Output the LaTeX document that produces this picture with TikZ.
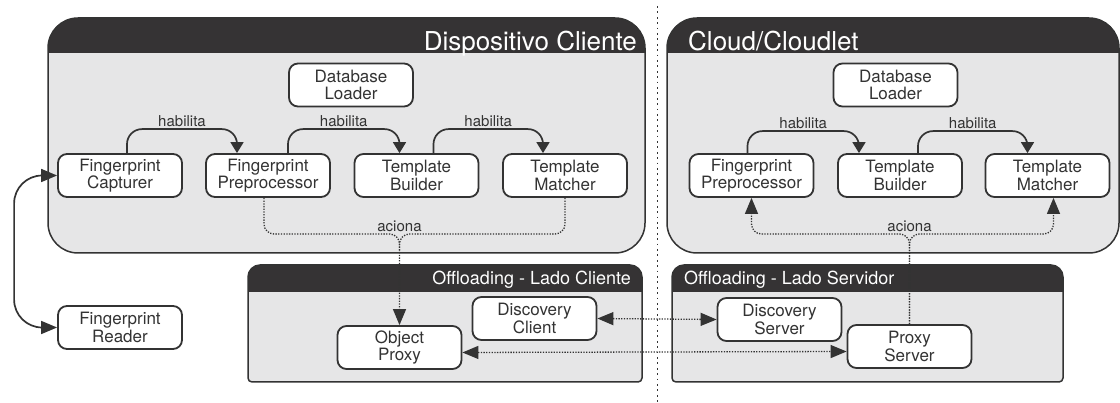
\documentclass[tikz,border=0pt]{standalone}
\usepackage{fontspec}
\setmainfont{TeX Gyre Heros}
\usepackage{xcolor}
\usetikzlibrary{arrows.meta}

\definecolor{barcolor}{HTML}{353334}
\definecolor{panelcolor}{HTML}{E6E6E7}
\definecolor{inkcolor}{HTML}{333333}

\begin{document}
\begin{tikzpicture}[x=1pt,y=-1pt,
    comp/.style={draw=inkcolor, fill=white, line width=1.8pt, rounded corners=9pt,
        minimum width=124pt, minimum height=43pt, inner sep=0pt, align=center,
        text=inkcolor, font=\fontsize{17}{17.5}\selectfont},
    edgetext/.style={text=inkcolor, inner sep=2pt, font=\fontsize{15}{15}\selectfont},
    bartext/.style={text=white, inner sep=0pt},
    habarrow/.style={draw=inkcolor, line width=1.7pt, rounded corners=15pt,
        -{Triangle[length=11pt,width=13pt]}},
    dotline/.style={draw=inkcolor, line width=1.3pt, dash pattern=on 1.3pt off 1.4pt},
    dottip/.style={-{Triangle[length=16pt,width=13pt]}},
    panelline/.style={draw=inkcolor, line width=1.5pt}]
        \useasboundingbox (0,0) rectangle (1120,403);

        % client device
        \begin{scope}
            \clip[rounded corners=30pt] (48,18) rectangle (645,253);
            \fill[panelcolor] (48,18) rectangle (645,253);
            \fill[barcolor] (48,18) rectangle (645,53);
        \end{scope}
        \draw[panelline, rounded corners=30pt] (48,18) rectangle (645,253);
        \node[bartext, anchor=base east, font=\fontsize{26}{26}\selectfont] (ctitle) at (637,51) {Dispositivo Cliente};

        % cloud
        \begin{scope}
            \clip[rounded corners=30pt] (667,18) rectangle (1119,253);
            \fill[panelcolor] (667,18) rectangle (1119,253);
            \fill[barcolor] (667,18) rectangle (1119,53);
        \end{scope}
        \draw[panelline, rounded corners=30pt] (667,18) rectangle (1119,253);
        \node[bartext, anchor=base west, font=\fontsize{26}{26}\selectfont] (stitle) at (688,51) {Cloud/Cloudlet};

        % offloading client side
        \begin{scope}
            \clip (248,323) [rounded corners=12pt] -- (248,265) -- (642,265) -- (642,323)
                [rounded corners=4pt] -- (642,382) -- (248,382) -- cycle;
            \fill[panelcolor] (248,265) rectangle (642,382);
            \fill[barcolor] (248,265) rectangle (642,292);
        \end{scope}
        \draw[panelline] (248,323) [rounded corners=12pt] -- (248,265) -- (642,265) -- (642,323)
            [rounded corners=4pt] -- (642,382) -- (248,382) -- cycle;
        \node[bartext, anchor=base east, font=\fontsize{18}{18}\selectfont] (cofftitle) at (631,285) {Offloading - Lado Cliente};

        % offloading server side
        \begin{scope}
            \clip (672,323) [rounded corners=12pt] -- (672,265) -- (1063,265) -- (1063,323)
                [rounded corners=4pt] -- (1063,382) -- (672,382) -- cycle;
            \fill[panelcolor] (672,265) rectangle (1063,382);
            \fill[barcolor] (672,265) rectangle (1063,292);
        \end{scope}
        \draw[panelline] (672,323) [rounded corners=12pt] -- (672,265) -- (1063,265) -- (1063,323)
            [rounded corners=4pt] -- (1063,382) -- (672,382) -- cycle;
        \node[bartext, anchor=base west, font=\fontsize{18}{18}\selectfont] (sofftitle) at (684,285) {Offloading - Lado Servidor};

        % divider
        \draw[inkcolor, line width=1.5pt, dash pattern=on 1.8pt off 3.6pt] (657.5,6) -- (657.5,403);

        \node[comp] (cdb) at (351,85) {Database\\Loader};
        \node[comp] (ccap) at (120,175.5) {Fingerprint\\Capturer};
        \node[comp] (cpre) at (268,175.5) {Fingerprint\\Preprocessor};
        \node[comp] (cbld) at (416.5,175.5) {Template\\Builder};
        \node[comp] (cmat) at (565,175.5) {Template\\Matcher};
        \node[comp] (rdr) at (120,327.5) {Fingerprint\\Reader};
        \node[comp] (cobj) at (399.5,347.5) {Object\\Proxy};
        \node[comp] (cdsc) at (534.5,318.5) {Discovery\\Client};

        \node[comp] (sdb) at (895.5,85) {Database\\Loader};
        \node[comp] (spre) at (751.5,175.5) {Fingerprint\\Preprocessor};
        \node[comp] (sbld) at (900,175.5) {Template\\Builder};
        \node[comp] (smat) at (1047.5,175.5) {Template\\Matcher};
        \node[comp] (sdsc) at (779.5,319.5) {Discovery\\Server};
        \node[comp] (sprx) at (909.5,346.5) {Proxy\\Server};

        % habilita
        \draw[habarrow] ([xshift=7pt]ccap.north) -- ++(0,-24) -| node[pos=0.25, above, edgetext] {habilita} ([xshift=-31pt]cpre.north);
        \draw[habarrow] ([xshift=20pt]cpre.north) -- ++(0,-24) -| node[pos=0.25, above, edgetext] {habilita} ([xshift=-17pt]cbld.north);
        \draw[habarrow] ([xshift=17pt]cbld.north) -- ++(0,-24) -| node[pos=0.25, above, edgetext] {habilita} ([xshift=-22pt]cmat.north);
        \draw[habarrow] ([xshift=-4pt]spre.north) -- ++(0,-22) -| node[pos=0.25, above, edgetext] {habilita} ([xshift=-41pt]sbld.north);
        \draw[habarrow] ([xshift=18pt]sbld.north) -- ++(0,-22) -| node[pos=0.25, above, edgetext] {habilita} ([xshift=-20pt]smat.north);

        % aciona
        \coordinate (cjoin) at (399.5,234);
        \draw[dotline, dottip, rounded corners=10pt] ([xshift=-4pt]cpre.south) |- (cjoin) -- (cobj.north);
        \draw[dotline, rounded corners=10pt] (cmat.south) |- (cjoin) -- ++(0,18);
        \node[edgetext, above] (cact) at (cjoin) {aciona};

        \coordinate (sjoin) at (sprx.north |- cjoin);
        \draw[dotline, dottip, rounded corners=10pt] (sprx.north) -- (sjoin) -| (spre.south);
        \draw[dotline, dottip, rounded corners=10pt] (sprx.north) -- (sjoin) -| ([xshift=6pt]smat.south);
        \node[edgetext, above] (sact) at (sjoin) {aciona};

        % offloading links
        \draw[dotline, {Triangle[length=16pt,width=13pt]}-{Triangle[length=16pt,width=13pt]}] (cdsc.east) -- (sdsc.west);
        \draw[dotline, {Triangle[length=16pt,width=13pt]}-{Triangle[length=16pt,width=13pt]}] ([yshift=-5pt]cobj.east) -- ([yshift=-5pt]sprx.west);

        % reader
        \draw[inkcolor, line width=1.7pt, rounded corners=28pt, {Triangle[length=16pt,width=13pt]}-{Triangle[length=16pt,width=13pt]}] (ccap.west) -- ++(-43,0) |- (rdr.west);

    \end{tikzpicture}
\end{document}
